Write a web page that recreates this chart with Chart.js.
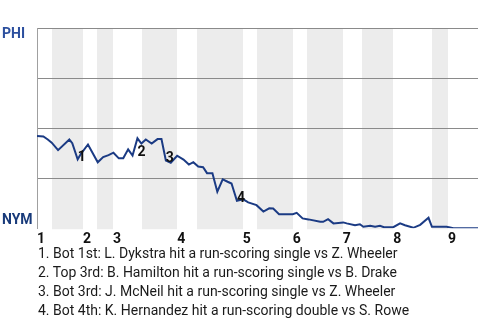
<!DOCTYPE html>
<html>
<head>
<meta charset="utf-8">
<script src="https://cdn.jsdelivr.net/npm/chart.js@4.4.1/dist/chart.umd.min.js"></script>
<style>
  html, body { margin: 0; padding: 0; background: #fff; }
  #wrap { position: relative; width: 480px; height: 320px; overflow: hidden; }
  #wpChart { position: absolute; left: 0; top: 0; }
  #notes {
    position: absolute; left: 38px; top: 244px;
    font-family: Roboto, "Liberation Sans", sans-serif;
    font-size: 14px; line-height: 19px; color: #1a1a1a;
  }
</style>
</head>
<body>
<div id="wrap">
  <canvas id="wpChart" width="480" height="251"></canvas>
  <div id="notes"></div>
</div>
<script>
// game progress, in plate-appearance units
var topStarts = [0, 9.4, 15.5, 28.6, 42, 52.2, 62.4, 72.7, 83.9];
var botStarts = [3.1, 12.2, 21.4, 32.7, 44.9, 55.1, 66.3, 80.6];
var gameEnd = 90;
var inningLabels = ['1', '2', '3', '4', '5', '6', '7', '8', '9'];

// win probability (PHI side, %)
var progress = [0, 1.3, 2.2, 3.0, 4.3, 6.6, 7.2, 8.3, 9.0, 10.4,
    12.4, 13.5, 14.6, 15.6, 16.7, 17.6, 18.6, 19.5, 20.5, 21.3,
    22.2, 23.4, 24.6, 25.4, 26.3, 27.3, 28.6, 29.9, 31.0, 31.9,
    32.9, 33.9, 34.7, 35.8, 36.8, 37.9, 38.9, 39.7, 40.8, 42.1,
    43.1, 44.8, 46.2, 47.4, 48.2, 49.4, 52.2, 53.0, 54.2, 55.4,
    57.8, 58.4, 59.4, 60.5, 62.5, 63.2, 64.9, 65.9, 66.6, 68.0,
    69.0, 70.0, 70.8, 72.7, 74.1, 75.1, 76.8, 78.2, 79.9, 80.6,
    83.6, 85.0, 90];
var winProb = [46, 45.8, 44.3, 42.7, 39, 44.3, 42.5, 34.4, 37.3, 41.8,
    32.9, 35.5, 36.5, 37.7, 34.9, 34.9, 39.4, 36.3, 44.9, 42.3,
    44.3, 42.3, 44.5, 44.5, 33.8, 32.7, 36.2, 34.3, 31.8, 33,
    30.8, 30.5, 27.5, 27.4, 18.2, 24.4, 23.2, 22.3, 13.7, 14.4,
    12.9, 11.5, 8.3, 9.9, 9.8, 7, 7, 7.7, 4.9, 4.4,
    3.2, 3.2, 4.5, 2.4, 2.9, 2.4, 1.5, 2, 0.7, 1.2,
    0.7, 1.2, 0.5, 0.5, 2.4, 1.5, 0.2, 1.7, 5.2, 0.7,
    0.7, 0, 0];

// key plays: index into the series above, marker text, note
var eventIndex = [7, 18, 24, 38];
var eventMarks = ['1', '2', '3', '4'];
var eventNotes = [
    '1. Bot 1st: L. Dykstra hit a run-scoring single vs Z. Wheeler',
    '2. Top 3rd: B. Hamilton hit a run-scoring single vs B. Drake',
    '3. Bot 3rd: J. McNeil hit a run-scoring single vs Z. Wheeler',
    '4. Bot 4th: K. Hernandez hit a run-scoring double vs S. Rowe'
];
var teamTop = 'PHI';
var teamBottom = 'NYM';

var notes = document.getElementById('notes');
eventNotes.forEach(function (t) {
    var d = document.createElement('div');
    d.textContent = t;
    notes.appendChild(d);
});

var points = progress.map(function (x, i) { return {x: x, y: winProb[i]}; });

// shaded bottom halves
var inningBands = {
    id: 'inningBands',
    beforeDraw: function (chart) {
        var c = chart.ctx, a = chart.chartArea, xs = chart.scales.x;
        c.save();
        c.fillStyle = '#ececec';
        botStarts.forEach(function (s, i) {
            var e = i + 1 < topStarts.length ? topStarts[i + 1] : gameEnd;
            var x0 = Math.round(xs.getPixelForValue(s));
            var x1 = Math.round(xs.getPixelForValue(e));
            c.fillRect(x0, a.top, x1 - x0, a.bottom - a.top + 1);
        });
        c.restore();
    }
};

// team names and play markers
var annotations = {
    id: 'annotations',
    afterDatasetsDraw: function (chart) {
        var c = chart.ctx, a = chart.chartArea;
        var xs = chart.scales.x, ys = chart.scales.y;
        c.save();
        c.font = 'bold 14px Roboto, "Liberation Sans", sans-serif';
        c.textAlign = 'left';
        c.textBaseline = 'middle';
        c.fillStyle = '#2c4f9e';
        c.fillText(teamTop, 2, a.top + 6);
        c.fillStyle = '#183a7a';
        c.fillText(teamBottom, 2, a.bottom - 8);

        c.fillStyle = '#111';
        c.textAlign = 'center';
        eventIndex.forEach(function (idx, i) {
            var px = xs.getPixelForValue(progress[idx]);
            var py = ys.getPixelForValue(winProb[idx]);
            var dy = i === 1 ? 14 : -2;
            c.fillText(eventMarks[i], px + 4, py + dy);
        });
        c.restore();
    }
};

var ctx = document.getElementById('wpChart');
var chart = new Chart(ctx, {
    type: 'line',
    data: {
        datasets: [{
            data: points,
            borderColor: '#1b3b84',
            borderWidth: 2,
            pointRadius: 0,
            tension: 0,
            fill: false
        }]
    },
    options: {
        responsive: false,
        animation: false,
        layout: { padding: { left: 37, right: 2, top: 28, bottom: 0 } },
        plugins: {
            legend: { display: false },
            tooltip: { enabled: false }
        },
        scales: {
            x: {
                type: 'linear',
                min: 0,
                max: gameEnd,
                afterBuildTicks: function (axis) {
                    axis.ticks = topStarts.map(function (v) { return {value: v}; });
                },
                ticks: {
                    autoSkip: false,
                    maxRotation: 0,
                    align: 'start',
                    padding: 3,
                    color: '#111',
                    font: { family: 'Roboto', size: 14, weight: 'bold' },
                    callback: function (v, i) { return inningLabels[i]; }
                },
                grid: { display: false, drawTicks: false },
                border: { display: false }
            },
            y: {
                min: 0,
                max: 100,
                ticks: { display: false, stepSize: 25 },
                grid: {
                    drawTicks: false,
                    color: function (c) { return c.tick && c.tick.value === 0 ? 'rgba(0,0,0,0)' : '#8a8a8a'; },
                    lineWidth: 1
                },
                border: { display: true, color: '#a0a0a0', width: 1 }
            }
        }
    },
    plugins: [inningBands, annotations]
});
</script>
</body>
</html>
